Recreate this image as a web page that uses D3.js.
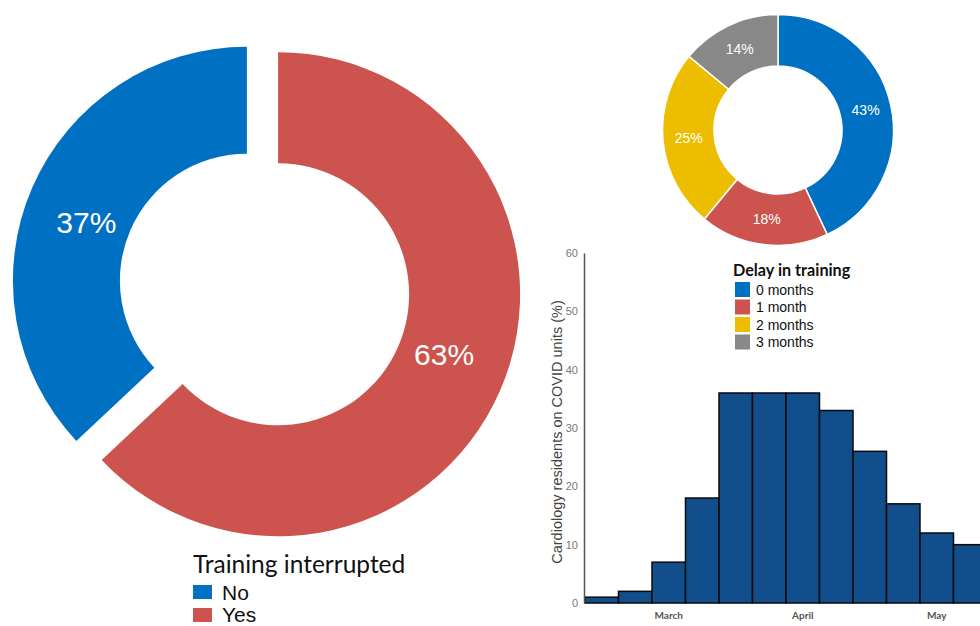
<!DOCTYPE html>
<html>
<head>
<meta charset="utf-8">
<script src="https://cdn.jsdelivr.net/npm/d3@7"></script>
<style>
  html, body { margin: 0; padding: 0; background: #fff; }
  svg { display: block; }
</style>
</head>
<body>
<div id="chart"></div>
<script>
'use strict';

// Training interrupted (big donut)
const interruptCats = ['No', 'Yes'];
const interruptVals = [37, 63];
const interruptColors = ['#0071C2', '#CD544E'];

// Delay in training (small donut)
const delayCats = ['0 months', '1 month', '2 months', '3 months'];
const delayVals = [43, 18, 25, 14];
const delayColors = ['#0071C2', '#CD544E', '#EDBE00', '#888888'];

// Cardiology residents on COVID units, weekly
const weeks = ['w1', 'w2', 'w3', 'w4', 'w5', 'w6', 'w7', 'w8', 'w9', 'w10', 'w11', 'w12'];
const residentPct = [1, 2, 7, 18, 36, 36, 36, 33, 26, 17, 12, 10];
const monthTicks = [{ week: 'w3', label: 'March' }, { week: 'w7', label: 'April' }, { week: 'w11', label: 'May' }];
const yTicks = [0, 10, 20, 30, 40, 50, 60];

const width = 980, height = 626;
const svg = d3.select('#chart').append('svg')
    .attr('width', width)
    .attr('height', height);

// ---------- big donut ----------
let big = svg.append('g');
// "No" runs counter-clockwise from 12 o'clock, "Yes" clockwise from it
let bigStart = -2 * Math.PI * interruptVals[0] / d3.sum(interruptVals);
let bigPie = d3.pie().sort(null).value(function (d) { return d; })
    .startAngle(bigStart).endAngle(bigStart + 2 * Math.PI);
let bigArcs = bigPie(interruptVals);
let bigCenter = [262.5, 287.5];
let explode = 17;
let bigOuter = [234, 242];
let bigInner = [127, 131];

bigArcs.forEach(function (a, i) {
    let mid = (a.startAngle + a.endAngle) / 2;
    let cx = bigCenter[0] + Math.sin(mid) * explode;
    let cy = bigCenter[1] - Math.cos(mid) * explode;
    let arc = d3.arc().innerRadius(bigInner[i]).outerRadius(bigOuter[i]);
    let g = big.append('g').attr('transform', 'translate(' + cx + ',' + cy + ')');
    g.append('path')
        .attr('d', arc(a))
        .style('fill', interruptColors[i]);
    // labels sit a little counter-clockwise of the slice middle
    let la = mid - 0.06;
    let lr = bigOuter[i] * 0.73;
    g.append('text')
        .attr('x', Math.sin(la) * lr)
        .attr('y', -Math.cos(la) * lr)
        .attr('dy', '0.36em')
        .style('text-anchor', 'middle')
        .style('font-family', 'Liberation Sans, Arial, sans-serif')
        .style('font-size', '30px')
        .style('fill', '#fff')
        .text(interruptVals[i] + '%');
});

let bigLegend = svg.append('g').attr('transform', 'translate(193,0)');
bigLegend.append('text')
    .attr('x', 0)
    .attr('y', 573)
    .style('font-family', 'Lato, Open Sans, sans-serif')
    .style('font-size', '24.5px')
    .style('fill', '#111')
    .text('Training interrupted');
bigLegend.selectAll('.bigKey').data(interruptCats).enter()
    .append('rect')
    .attr('class', 'bigKey')
    .attr('x', 0)
    .attr('y', function (d, i) { return 585 + i * 23; })
    .attr('width', 19)
    .attr('height', 14)
    .style('fill', function (d, i) { return interruptColors[i]; });
bigLegend.selectAll('.bigKeyLabel').data(interruptCats).enter()
    .append('text')
    .attr('class', 'bigKeyLabel')
    .attr('x', 29)
    .attr('y', function (d, i) { return 600 + i * 22; })
    .style('font-family', 'Liberation Sans, Arial, sans-serif')
    .style('font-size', '21px')
    .style('fill', '#111')
    .text(function (d) { return d; });

// ---------- small donut ----------
let small = svg.append('g').attr('transform', 'translate(778,130)');
let smallPie = d3.pie().sort(null).value(function (d) { return d; });
let smallArc = d3.arc().innerRadius(64).outerRadius(115.5);
let smallData = smallPie(delayVals);

small.selectAll('path').data(smallData).enter()
    .append('path')
    .attr('d', smallArc)
    .style('fill', function (d, i) { return delayColors[i]; })
    .style('stroke', '#fff')
    .style('stroke-width', 1.5);

small.selectAll('.smallLabel').data(smallData).enter()
    .append('text')
    .attr('class', 'smallLabel')
    .attr('transform', function (d) { return 'translate(' + smallArc.centroid(d) + ')'; })
    .attr('dy', '0.36em')
    .style('text-anchor', 'middle')
    .style('font-family', 'Liberation Sans, Arial, sans-serif')
    .style('font-size', '14px')
    .style('fill', '#fff')
    .text(function (d) { return d.data + '%'; });

let smallLegend = svg.append('g').attr('transform', 'translate(734,0)');
smallLegend.append('text')
    .attr('x', -1)
    .attr('y', 276)
    .style('font-family', 'Lato, Open Sans, sans-serif')
    .style('font-weight', 'bold')
    .style('font-size', '16.2px')
    .style('fill', '#111')
    .text('Delay in training');
smallLegend.selectAll('.smallKey').data(delayCats).enter()
    .append('rect')
    .attr('class', 'smallKey')
    .attr('x', 1)
    .attr('y', function (d, i) { return 282 + i * 17.5; })
    .attr('width', 15)
    .attr('height', 15)
    .style('fill', function (d, i) { return delayColors[i]; });
smallLegend.selectAll('.smallKeyLabel').data(delayCats).enter()
    .append('text')
    .attr('class', 'smallKeyLabel')
    .attr('x', 22)
    .attr('y', function (d, i) { return 294.5 + i * 17.5; })
    .style('font-family', 'Liberation Sans, Arial, sans-serif')
    .style('font-size', '14px')
    .style('fill', '#111')
    .text(function (d) { return d; });

// ---------- histogram ----------
let plotLeft = 585, plotTop = 253, plotBottom = 603;
let x = d3.scaleBand().domain(weeks).range([plotLeft, plotLeft + weeks.length * 33.5]).padding(0);
let y = d3.scaleLinear().domain([0, 60]).range([plotBottom, plotTop]);

let hist = svg.append('g');
hist.selectAll('.bar').data(residentPct).enter()
    .append('rect')
    .attr('class', 'bar')
    .attr('x', function (d, i) { return x(weeks[i]); })
    .attr('y', function (d) { return y(d); })
    .attr('width', x.bandwidth())
    .attr('height', function (d) { return y(0) - y(d); })
    .style('fill', '#114E8B')
    .style('stroke', '#0b0b0b')
    .style('stroke-width', 1.5);

let yAxis = hist.append('g')
    .attr('transform', 'translate(' + (plotLeft - 1) + ',0)')
    .call(d3.axisLeft(y).tickValues(yTicks).tickSize(0).tickPadding(6));
yAxis.select('.domain').attr('stroke', '#555').attr('stroke-width', 1.5);
yAxis.selectAll('text')
    .style('font-family', 'Liberation Sans, Arial, sans-serif')
    .style('font-size', '11px')
    .style('fill', '#777');

let monthLabel = {};
monthTicks.forEach(function (m) { monthLabel[m.week] = m.label; });
let xAxis = hist.append('g')
    .attr('transform', 'translate(0,' + plotBottom + ')')
    .call(d3.axisBottom(x)
        .tickValues(monthTicks.map(function (m) { return m.week; }))
        .tickFormat(function (d) { return monthLabel[d]; })
        .tickSize(0).tickPadding(9));
xAxis.select('.domain').remove();
xAxis.selectAll('text')
    .style('font-family', 'Lato, Open Sans, sans-serif')
    .style('font-weight', 'bold')
    .style('font-size', '10px')
    .style('fill', '#555');

hist.append('text')
    .attr('transform', 'translate(562,' + ((plotTop + plotBottom) / 2 + 4) + ') rotate(-90)')
    .style('text-anchor', 'middle')
    .style('font-family', 'Liberation Sans, Arial, sans-serif')
    .style('font-size', '14.5px')
    .style('fill', '#444')
    .text('Cardiology residents on COVID units (%)');
</script>
</body>
</html>
